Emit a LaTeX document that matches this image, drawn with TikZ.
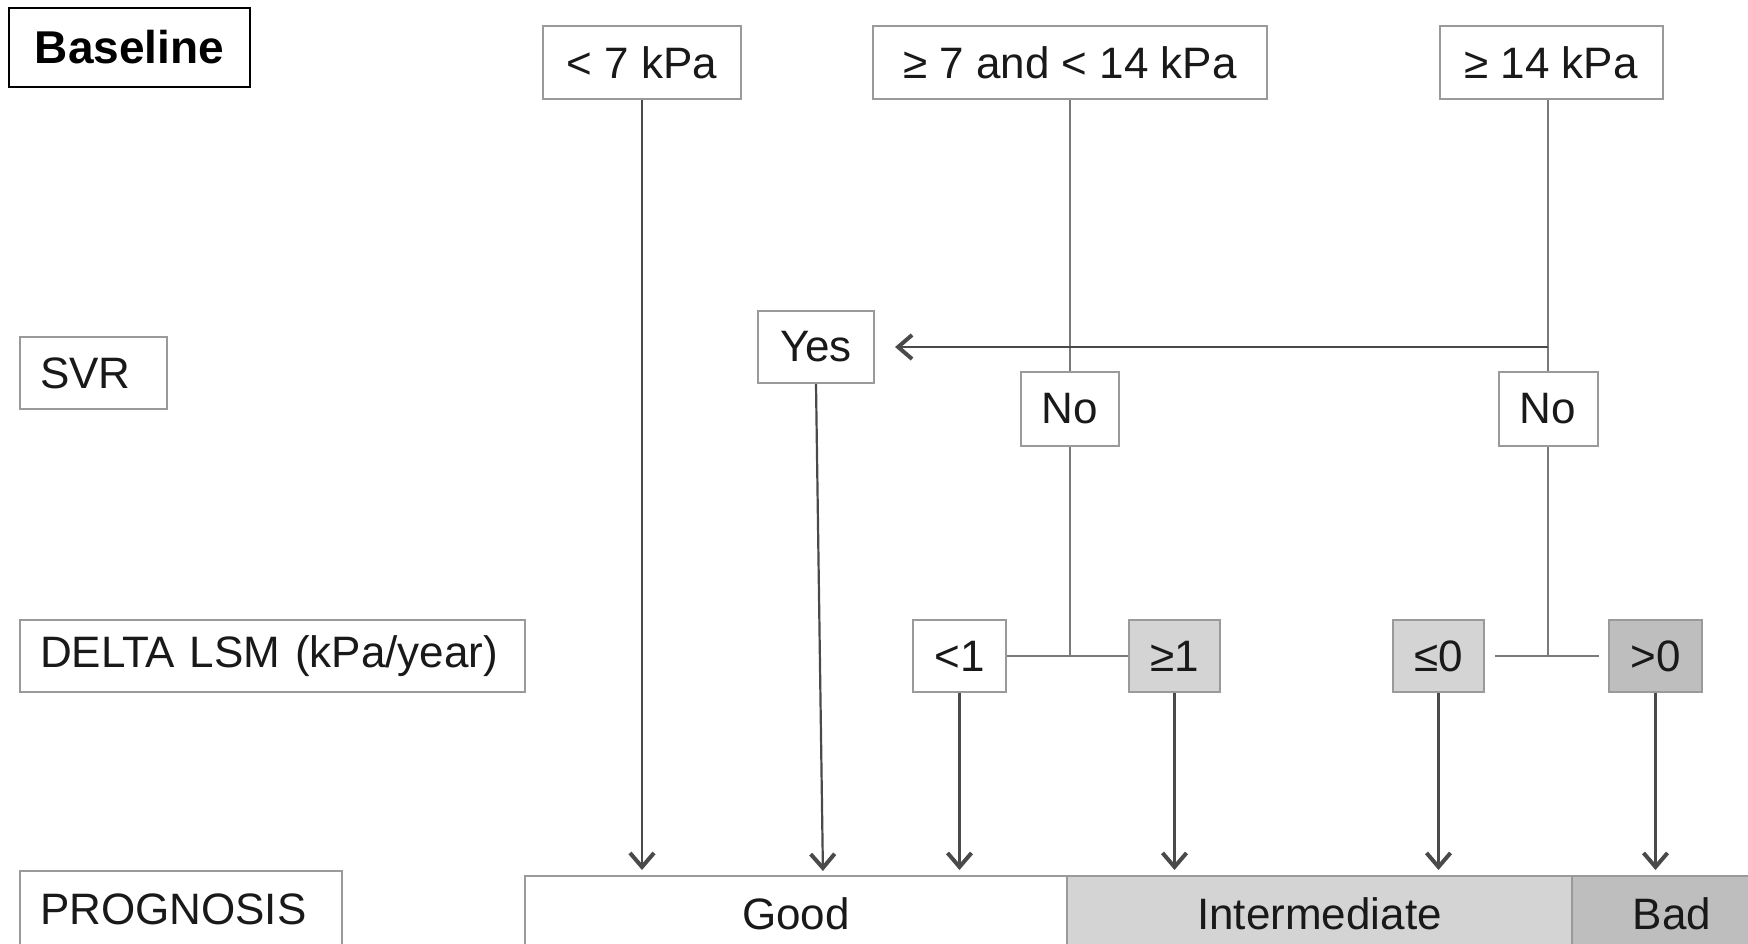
\documentclass[tikz,border=0pt]{standalone}
\usepackage{fontspec}
\setmainfont{Liberation Sans}
\usetikzlibrary{arrows.meta}
\definecolor{boxline}{HTML}{9A9A9A}
\definecolor{conn}{HTML}{7A7A7A}
\definecolor{arr}{HTML}{4A4A4A}
\definecolor{lightg}{HTML}{D4D4D4}
\definecolor{darkg}{HTML}{BEBEBE}
\tikzset{
  box/.style={draw=boxline, line width=2pt, inner sep=0pt, font=\fontsize{44}{50}\selectfont, text=black!90},
  lbl/.style={box, align=left, inner xsep=20pt},
  conline/.style={draw=conn, line width=2pt},
  arrline/.style={draw=arr, line width=2.2pt, -{Straight Barb[length=14pt,width=24pt,line width=4pt]}},
}
\begin{document}
\begin{tikzpicture}[x=1pt,y=-1pt]
\useasboundingbox (0,0) rectangle (1748,943);
\fill[white] (0,0) rectangle (1748,943);
% header
\node[draw=black, line width=2.5pt, minimum width=241pt, minimum height=79pt, inner sep=0pt, font=\fontsize{46}{52}\selectfont\bfseries] (base) at (129.5,47.5) {Baseline};
% top boxes
\node[box, minimum width=198pt, minimum height=73pt] (t1) at (642,62.5) {< 7 kPa};
\node[box, minimum width=394pt, minimum height=73pt] (t2) at (1070,62.5) {≥ 7 and < 14 kPa};
\node[box, minimum width=223pt, minimum height=73pt] (t3) at (1551,62.5) {≥ 14 kPa};
% row labels
\node[lbl, text width=107pt, minimum height=72pt] (svr) at (93.5,373) {SVR};
\node[lbl, text width=465pt, minimum height=72pt] (delta) at (272.5,656) {DELTA LSM (kPa/year)};
\node[lbl, text width=282pt, minimum height=76pt] (prog) at (181,909) {PROGNOSIS};
% SVR row
\node[box, minimum width=116pt, minimum height=72pt] (yes) at (816,347) {Yes};
\node[box, minimum width=98pt, minimum height=74pt] (no1) at (1070,409) {No};
\node[box, minimum width=99pt, minimum height=74pt] (no2) at (1548,409) {No};
% delta row
\node[box, minimum width=93pt, minimum height=72pt] (lt1) at (959.5,656) {<1};
\node[box, fill=lightg, minimum width=91pt, minimum height=72pt] (ge1) at (1174.5,656) {≥1};
\node[box, fill=lightg, minimum width=91pt, minimum height=72pt] (le0) at (1438.5,656) {≤0};
\node[box, fill=darkg, minimum width=93pt, minimum height=72pt] (gt0) at (1655.5,656) {>0};
% prognosis bar
\node[box, minimum width=542pt, minimum height=76pt] (good) at (796,914) {Good};
\node[box, fill=lightg, minimum width=505pt, minimum height=76pt] (inter) at (1319.5,914) {Intermediate};
\node[box, fill=darkg, minimum width=200pt, minimum height=76pt] (bad) at (1672,914) {Bad};
% junctions
\coordinate (j1) at (no1.center |- lt1.east);
\coordinate (j2) at (no2.center |- le0.east);
\coordinate (h1) at (no2.center |- yes.east);
\coordinate (t3b) at (no2.north |- t3.south);
\coordinate (yb) at (823,876);
% connectors
\draw[arrline, shorten >=5pt] (t1.south) -- (t1.south |- good.north);
\draw[conline] (t2.south) -- (no1.north);
\draw[conline] (t3b) -- (no2.north);
\draw[arrline, shorten >=20pt] (h1) -- (yes.east);
\draw[arrline, shorten >=5pt] (yes.south) -- (yb);
\draw[conline] (no1.south) -- (j1);
\draw[conline] (lt1.east) -- (ge1.west);
\draw[conline] (no2.south) -- (j2);
\draw[conline, shorten <=10pt, shorten >=9pt] (le0.east) -- (gt0.west);
\draw[arrline, shorten >=5pt] (lt1.south) -- (lt1.south |- good.north);
\draw[arrline, shorten >=5pt] (ge1.south) -- (ge1.south |- inter.north);
\draw[arrline, shorten >=5pt] (le0.south) -- (le0.south |- inter.north);
\draw[arrline, shorten >=5pt] (gt0.south) -- (gt0.south |- bad.north);
\end{tikzpicture}
\end{document}
